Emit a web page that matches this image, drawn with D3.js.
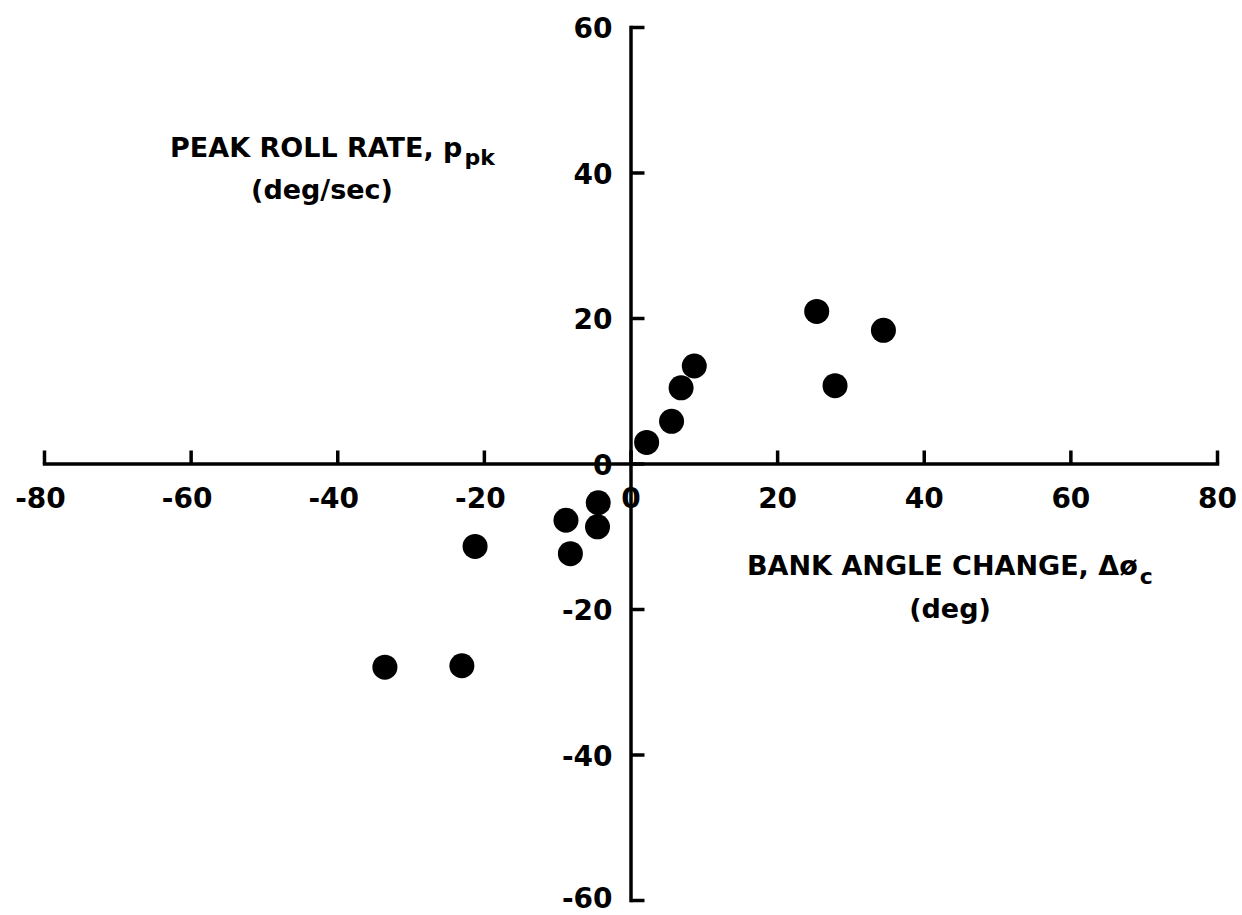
<!DOCTYPE html>
<html>
<head>
<meta charset="utf-8">
<script src="https://cdn.jsdelivr.net/npm/d3@7"></script>
<style>
  html, body { margin: 0; padding: 0; background: #fff; }
  svg { display: block; }
  text { font-family: "DejaVu Sans", sans-serif; font-weight: bold; fill: #000; }
</style>
</head>
<body>
<svg id="chart" width="1242" height="915"></svg>
<script>
// ---- data ----
const bankAngleChange = [25.4, 34.5, 27.9, 8.7, 6.9, 5.6, 2.2, -4.4, -8.8, -4.5, -21.2, -8.2, -33.5, -23.0];
const peakRollRate    = [20.9, 18.3, 10.7, 13.4, 10.4, 5.8, 2.9, -5.4, -7.8, -8.7, -11.4, -12.4, -28.0, -27.8];
const xTickValues = [-80, -60, -40, -20, 0, 20, 40, 60, 80];
const yTickValues = [-60, -40, -20, 0, 20, 40, 60];
const xDomain = [-80, 80];
const yDomain = [-60, 60];

const svg = d3.select("#chart");
const x = d3.scaleLinear().domain(xDomain).range([44, 1217]);
const y = d3.scaleLinear().domain(yDomain).range([900, 27]);
const fmt = d => String(d);

// X axis (through y = 0), ticks pointing up, labels below
const gx = svg.append("g")
  .attr("transform", `translate(0,${y(0)})`)
  .call(d3.axisBottom(x).tickValues(xTickValues).tickSizeInner(-13).tickSizeOuter(0).tickPadding(25).tickFormat(fmt));
gx.select(".domain").attr("stroke", "#000").attr("stroke-width", 3.5).attr("stroke-linecap", "square");
gx.selectAll(".tick line").attr("stroke", "#000").attr("stroke-width", 3.5);
gx.selectAll(".tick text")
  .attr("font-family", "DejaVu Sans").attr("font-weight", "bold").attr("font-size", 28)
  .attr("fill", "#000")
  .attr("dx", d => d < 0 ? -4 : 0);

// Y axis (through x = 0), ticks pointing right, labels left
const gy = svg.append("g")
  .attr("transform", `translate(${x(0)},0)`)
  .call(d3.axisLeft(y).tickValues(yTickValues).tickSizeInner(-14).tickSizeOuter(0).tickPadding(18).tickFormat(fmt));
gy.select(".domain").attr("stroke", "#000").attr("stroke-width", 3.5).attr("stroke-linecap", "square");
gy.selectAll(".tick line").attr("stroke", "#000").attr("stroke-width", 3.5);
gy.selectAll(".tick text")
  .attr("font-family", "DejaVu Sans").attr("font-weight", "bold").attr("font-size", 28)
  .attr("fill", "#000").attr("dy", d => d === yDomain[0] ? "0.26em" : "0.38em");

// data points
const pts = bankAngleChange.map((v, i) => ({ x: v, y: peakRollRate[i] }));
svg.append("g").selectAll("circle").data(pts).join("circle")
  .attr("cx", d => x(d.x)).attr("cy", d => y(d.y)).attr("r", 12.5).attr("fill", "#000");

// Y axis title
const t1 = svg.append("text").attr("x", 170).attr("y", 157).attr("font-size", 27);
t1.append("tspan").text("PEAK ROLL RATE, p");
t1.append("tspan").attr("font-size", 22).attr("dy", 8).attr("dx", 2).text("pk");
svg.append("text").attr("x", 322).attr("y", 199).attr("font-size", 27)
  .attr("text-anchor", "middle").text("(deg/sec)");

// X axis title
const t2 = svg.append("text").attr("x", 747).attr("y", 575).attr("font-size", 27);
t2.append("tspan").text("BANK ANGLE CHANGE, Δø");
t2.append("tspan").attr("font-size", 22).attr("dy", 9).attr("dx", 2).text("c");
svg.append("text").attr("x", 950).attr("y", 618).attr("font-size", 27)
  .attr("text-anchor", "middle").text("(deg)");
</script>
</body>
</html>
